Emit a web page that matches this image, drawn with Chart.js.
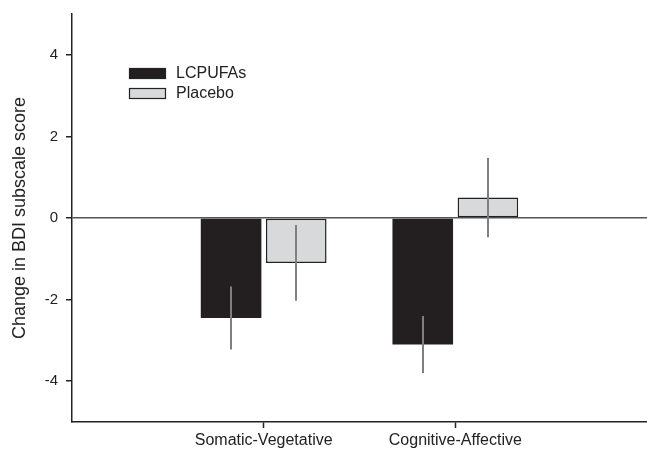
<!DOCTYPE html>
<html><head><meta charset="utf-8">
<script src="https://cdn.jsdelivr.net/npm/chart.js@4.4.1/dist/chart.umd.min.js"></script>
<style>html,body{margin:0;padding:0;background:#fff}#wrap{width:647px;height:455px}</style>
</head><body><div id="wrap"><canvas id="c" width="647" height="455"></canvas></div>
<script>
const categories = ['Somatic-Vegetative', 'Cognitive-Affective'];
const seriesNames = ['LCPUFAs', 'Placebo'];
const lcpufaValues = [-2.45, -3.10];
const lcpufaErrors = [0.77, 0.70];
const placeboValues = [-1.10, 0.50];
const placeboErrors = [0.93, 0.97];
const yTickValues = [-4, -2, 0, 2, 4];

const FONT = '"Liberation Sans", Arial, sans-serif';
const labels = [''].concat(categories, ['']);
const pad = a => [null].concat(a, [null]);
const errs = [pad(lcpufaErrors), pad(placeboErrors)];

const errorBars = {
  id: 'errorBars',
  afterDatasetsDraw(chart) {
    const ctx = chart.ctx, y = chart.scales.y;
    ctx.save();
    ctx.strokeStyle = '#7f7f7f';
    ctx.lineWidth = 2;
    chart.data.datasets.forEach((ds, di) => {
      const meta = chart.getDatasetMeta(di);
      meta.data.forEach((bar, i) => {
        const v = ds.data[i], e = errs[di][i];
        if (v == null || e == null) return;
        ctx.beginPath();
        ctx.moveTo(Math.round(bar.x), y.getPixelForValue(v + e));
        ctx.lineTo(Math.round(bar.x), y.getPixelForValue(v - e));
        ctx.stroke();
      });
    });
    ctx.restore();
  }
};

const boxLegend = {
  id: 'boxLegend',
  afterDraw(chart) {
    const ctx = chart.ctx, a = chart.chartArea;
    ctx.save();
    chart.data.datasets.forEach((ds, i) => {
      const bx = a.left + 57, by = 68 + i * 20;
      ctx.fillStyle = ds.backgroundColor;
      ctx.fillRect(bx, by, 37, 11);
      ctx.strokeStyle = '#222';
      ctx.lineWidth = 1.2;
      ctx.strokeRect(bx + 0.5, by + 0.5, 36, 10);
      ctx.fillStyle = '#222';
      ctx.font = '16px ' + FONT;
      ctx.textBaseline = 'middle';
      ctx.fillText(ds.label, bx + 47, by + 6);
    });
    ctx.restore();
  }
};

new Chart(document.getElementById('c'), {
  type: 'bar',
  data: {
    labels: labels,
    datasets: [
      { label: seriesNames[0], data: pad(lcpufaValues), backgroundColor: '#231f20', borderColor: '#231f20', borderWidth: 0 },
      { label: seriesNames[1], data: pad(placeboValues), backgroundColor: '#d8d9da', borderColor: '#222', borderWidth: 1.5, borderSkipped: false }
    ]
  },
  plugins: [errorBars, boxLegend],
  options: {
    responsive: false,
    animation: false,
    events: [],
    layout: { padding: { top: 14, right: -4, left: 0, bottom: 0 } },
    datasets: { bar: { categoryPercentage: 0.68, barPercentage: 0.93 } },
    plugins: { legend: { display: false }, tooltip: { enabled: false } },
    scales: {
      x: {
        offset: false,
        afterFit: s => { s.height = 33; s.paddingRight = 0; s.paddingLeft = 0; },
        border: { display: true, color: '#222', width: 1.5 },
        grid: {
          offset: false,
          drawOnChartArea: false, drawTicks: true, tickLength: 6, tickWidth: 1.5,
          tickColor: c => labels[c.index] ? '#222' : 'rgba(0,0,0,0)'
        },
        ticks: { color: '#222', font: { family: FONT, size: 16 }, padding: 3, maxRotation: 0, autoSkip: false }
      },
      y: {
        min: -5, max: 5,
        afterFit: s => { s.width = 72; s.paddingTop = 0; s.paddingBottom = 0; },
        afterBuildTicks: s => { s.ticks = yTickValues.map(v => ({ value: v })); },
        border: { display: true, color: '#222', width: 1.5 },
        grid: {
          drawOnChartArea: true, drawTicks: true, tickLength: 6, tickWidth: 1.5,
          color: c => (c.tick && c.tick.value === 0) ? '#555' : 'rgba(0,0,0,0)',
          lineWidth: 1.5,
          tickColor: '#222'
        },
        ticks: { color: '#222', font: { family: FONT, size: 15 }, padding: 8 },
        title: { display: true, text: 'Change in BDI subscale score', color: '#222', font: { family: FONT, size: 18 }, padding: { top: 9, bottom: 0 } }
      }
    }
  }
});
</script></body></html>
